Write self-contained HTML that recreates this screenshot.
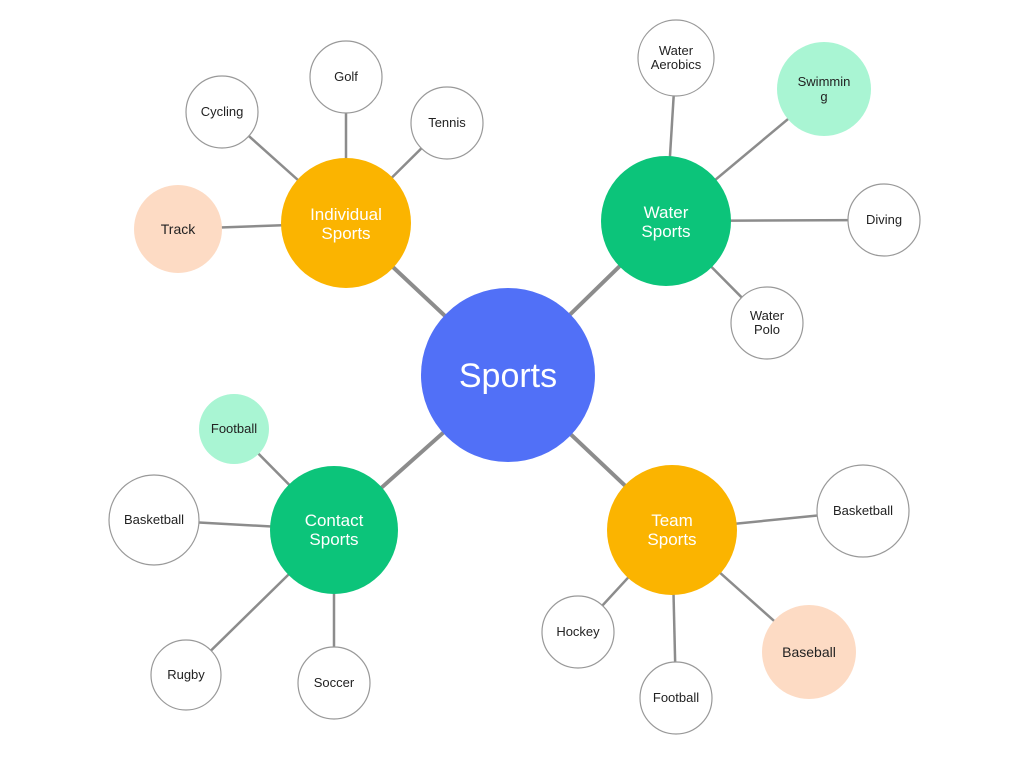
<!DOCTYPE html>
<html><head><meta charset="utf-8"><style>
html,body{margin:0;padding:0;background:#fff;}
svg{display:block;}
text{font-family:"Liberation Sans",Arial,sans-serif;text-anchor:middle;}
</style></head><body>
<svg width="1024" height="781" viewBox="0 0 1024 781" xmlns="http://www.w3.org/2000/svg">
<g stroke="#8c8c8c" stroke-width="4">
<line x1="508" y1="375" x2="346" y2="223"/>
<line x1="508" y1="375" x2="666" y2="221"/>
<line x1="508" y1="375" x2="334" y2="530"/>
<line x1="508" y1="375" x2="672" y2="530"/>
</g>
<g stroke="#8c8c8c" stroke-width="2.5">
<line x1="346" y1="223" x2="346" y2="77"/>
<line x1="346" y1="223" x2="222" y2="112"/>
<line x1="346" y1="223" x2="447" y2="123"/>
<line x1="346" y1="223" x2="178" y2="229"/>
<line x1="666" y1="221" x2="676" y2="58"/>
<line x1="666" y1="221" x2="824" y2="89"/>
<line x1="666" y1="221" x2="884" y2="220"/>
<line x1="666" y1="221" x2="767" y2="323"/>
<line x1="334" y1="530" x2="234" y2="429"/>
<line x1="334" y1="530" x2="154" y2="520"/>
<line x1="334" y1="530" x2="186" y2="675"/>
<line x1="334" y1="530" x2="334" y2="683"/>
<line x1="672" y1="530" x2="863" y2="511"/>
<line x1="672" y1="530" x2="578" y2="632"/>
<line x1="672" y1="530" x2="676" y2="698"/>
<line x1="672" y1="530" x2="809" y2="652"/>
</g>
<circle cx="508" cy="375" r="87" fill="#5170f7"/>
<text x="508" y="387" font-size="34" fill="#fff">Sports</text>
<circle cx="346" cy="223" r="65" fill="#fbb400"/>
<text x="346" y="220" font-size="17" fill="#fff">Individual</text>
<text x="346" y="239" font-size="17" fill="#fff">Sports</text>
<circle cx="666" cy="221" r="65" fill="#0cc47a"/>
<text x="666" y="218" font-size="17" fill="#fff">Water</text>
<text x="666" y="237" font-size="17" fill="#fff">Sports</text>
<circle cx="334" cy="530" r="64" fill="#0cc47a"/>
<text x="334" y="526" font-size="17" fill="#fff">Contact</text>
<text x="334" y="545" font-size="17" fill="#fff">Sports</text>
<circle cx="672" cy="530" r="65" fill="#fbb400"/>
<text x="672" y="526" font-size="17" fill="#fff">Team</text>
<text x="672" y="545" font-size="17" fill="#fff">Sports</text>
<g stroke="#999" stroke-width="1.2" fill="#fff">
<circle cx="346" cy="77" r="36"/>
<circle cx="222" cy="112" r="36"/>
<circle cx="447" cy="123" r="36"/>
<circle cx="676" cy="58" r="38"/>
<circle cx="884" cy="220" r="36"/>
<circle cx="767" cy="323" r="36"/>
<circle cx="154" cy="520" r="45"/>
<circle cx="186" cy="675" r="35"/>
<circle cx="334" cy="683" r="36"/>
<circle cx="863" cy="511" r="46"/>
<circle cx="578" cy="632" r="36"/>
<circle cx="676" cy="698" r="36"/>
</g>
<circle cx="178" cy="229" r="44" fill="#fddbc4"/>
<circle cx="824" cy="89" r="47" fill="#a9f5d3"/>
<circle cx="234" cy="429" r="35" fill="#a9f5d3"/>
<circle cx="809" cy="652" r="47" fill="#fddbc4"/>
<g font-size="13" fill="#222">
<text x="346" y="81">Golf</text>
<text x="222" y="116">Cycling</text>
<text x="447" y="127">Tennis</text>
<text x="178" y="234" font-size="14">Track</text>
<text x="676" y="55">Water</text>
<text x="676" y="69">Aerobics</text>
<text x="824" y="86">Swimmin</text>
<text x="824" y="101">g</text>
<text x="884" y="224">Diving</text>
<text x="767" y="320">Water</text>
<text x="767" y="334">Polo</text>
<text x="234" y="433">Football</text>
<text x="154" y="524">Basketball</text>
<text x="186" y="679">Rugby</text>
<text x="334" y="687">Soccer</text>
<text x="863" y="515">Basketball</text>
<text x="578" y="636">Hockey</text>
<text x="676" y="702">Football</text>
<text x="809" y="657" font-size="14">Baseball</text>
</g>
</svg>
</body></html>
